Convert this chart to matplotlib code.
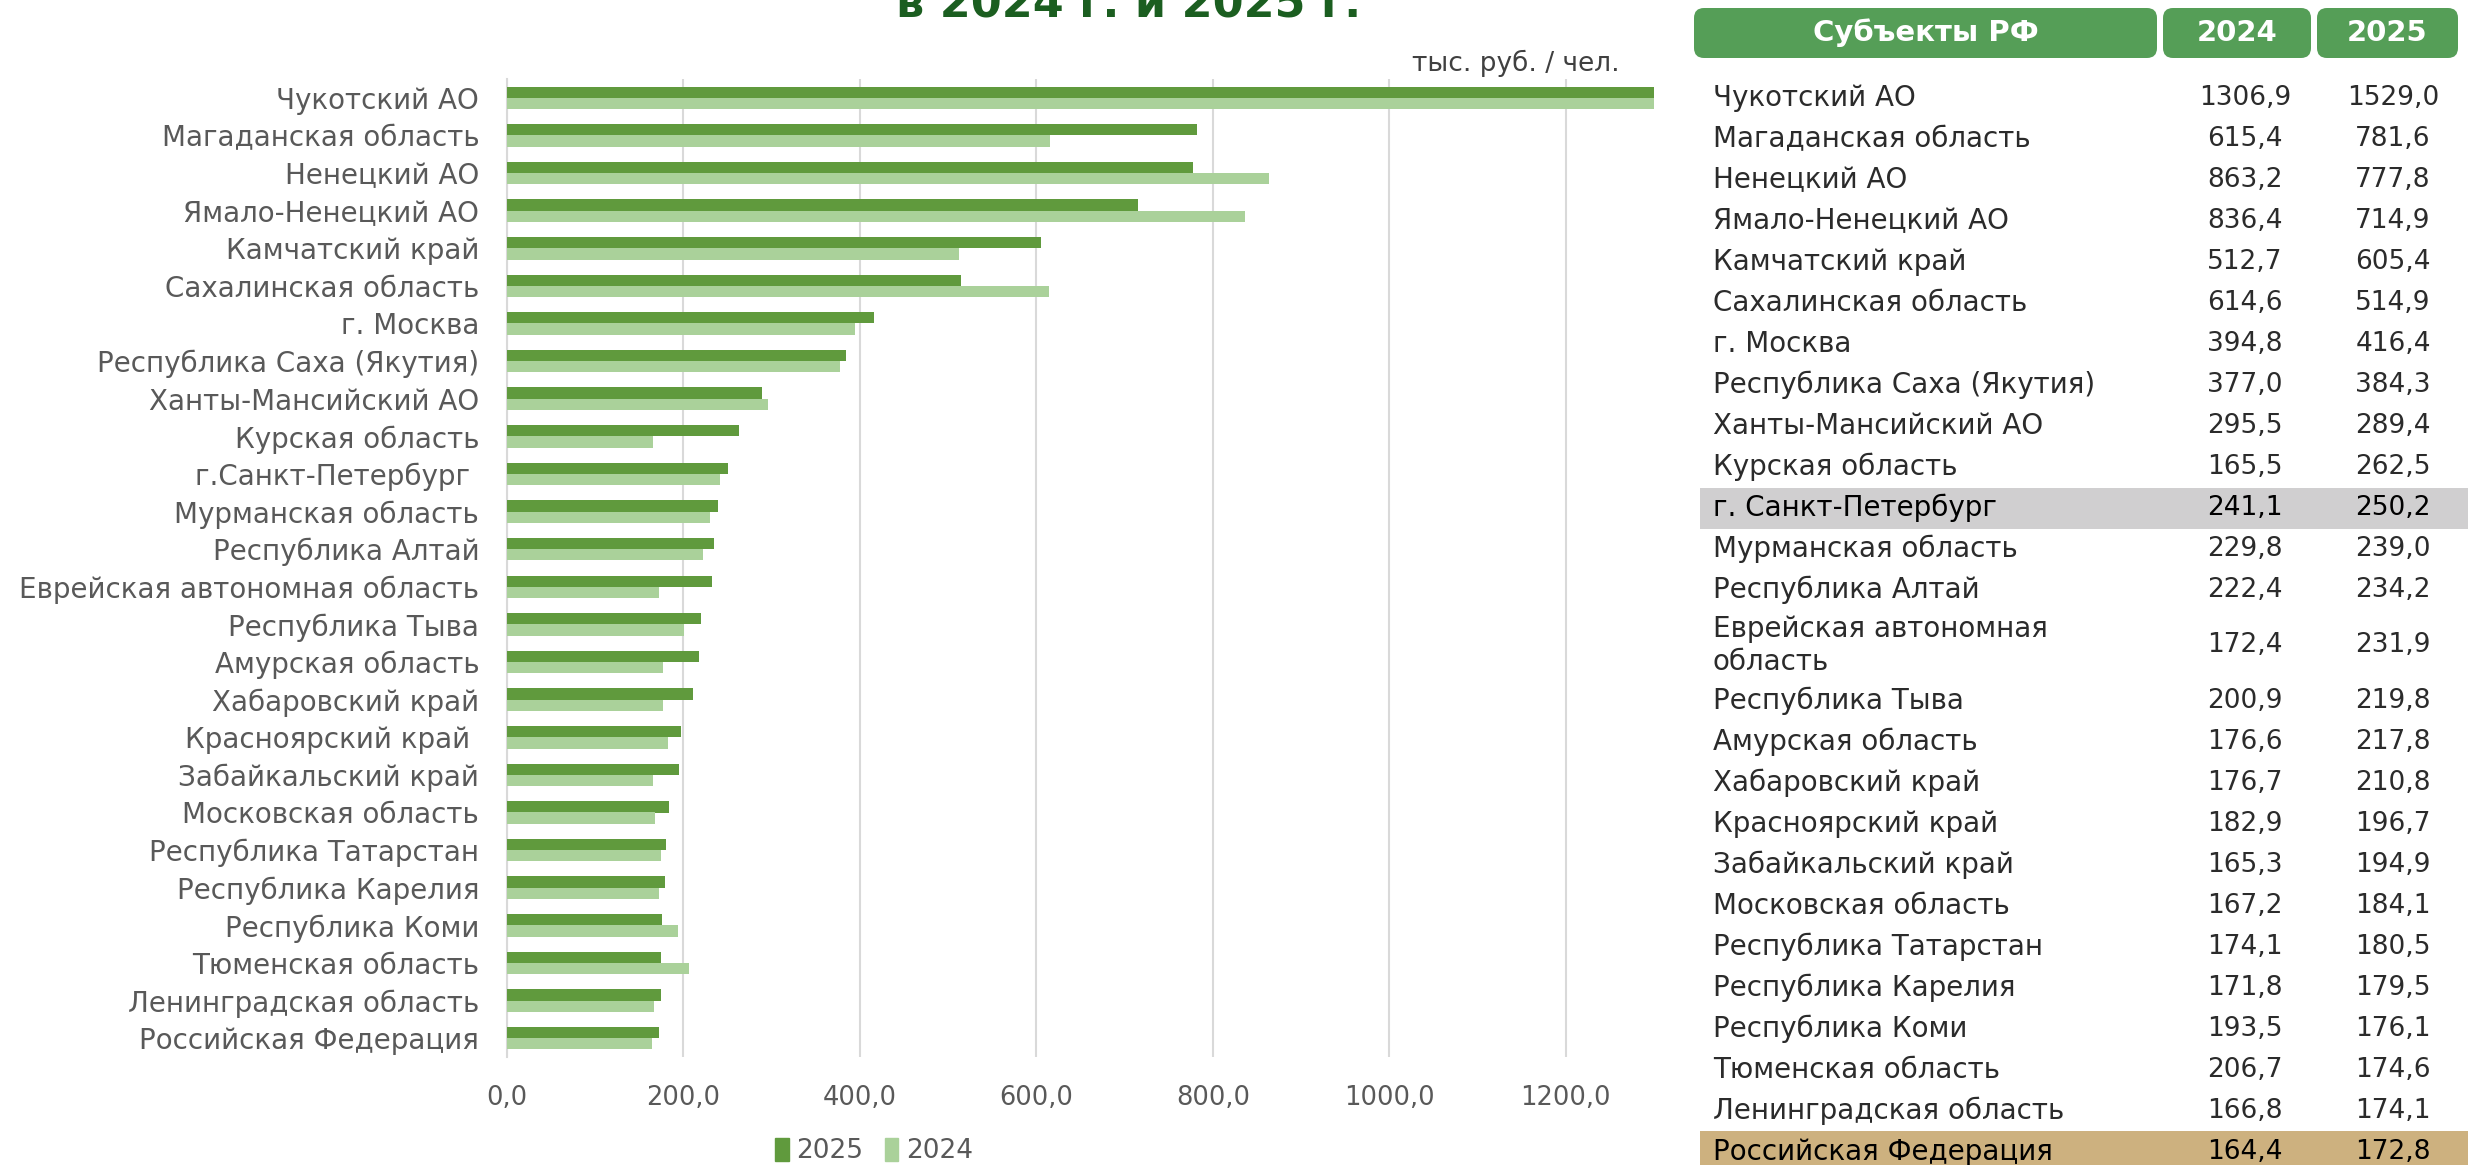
import numpy as np
import matplotlib
matplotlib.use("Agg")
import matplotlib.pyplot as plt
from matplotlib.patches import FancyBboxPatch, Rectangle, Patch

plt.rcParams['font.family'] = ['DejaVu Sans']

# chart order (top to bottom), sorted by 2025
chart_labels = ["Чукотский АО", "Магаданская область", "Ненецкий АО", "Ямало-Ненецкий АО",
                "Камчатский край", "Сахалинская область", "г. Москва", "Республика Саха (Якутия)",
                "Ханты-Мансийский АО", "Курская область", "г.Санкт-Петербург ", "Мурманская область",
                "Республика Алтай", "Еврейская автономная область", "Республика Тыва", "Амурская область",
                "Хабаровский край", "Красноярский край ", "Забайкальский край", "Московская область",
                "Республика Татарстан", "Республика Карелия", "Республика Коми", "Тюменская область",
                "Ленинградская область", "Российская Федерация"]
table_labels = ["Чукотский АО", "Магаданская область", "Ненецкий АО", "Ямало-Ненецкий АО",
                "Камчатский край", "Сахалинская область", "г. Москва", "Республика Саха (Якутия)",
                "Ханты-Мансийский АО", "Курская область", "г. Санкт-Петербург", "Мурманская область",
                "Республика Алтай", "Еврейская автономная\nобласть", "Республика Тыва", "Амурская область",
                "Хабаровский край", "Красноярский край", "Забайкальский край", "Московская область",
                "Республика Татарстан", "Республика Карелия", "Республика Коми", "Тюменская область",
                "Ленинградская область", "Российская Федерация"]
v2024 = [1306.9, 615.4, 863.2, 836.4, 512.7, 614.6, 394.8, 377.0, 295.5, 165.5, 241.1, 229.8,
         222.4, 172.4, 200.9, 176.6, 176.7, 182.9, 165.3, 167.2, 174.1, 171.8, 193.5, 206.7,
         166.8, 164.4]
v2025 = [1529.0, 781.6, 777.8, 714.9, 605.4, 514.9, 416.4, 384.3, 289.4, 262.5, 250.2, 239.0,
         234.2, 231.9, 219.8, 217.8, 210.8, 196.7, 194.9, 184.1, 180.5, 179.5, 176.1, 174.6,
         174.1, 172.8]
xticks = [0, 200, 400, 600, 800, 1000, 1200]

DARK = "#609a3d"
LIGHT = "#aad19a"
HEAD = "#559e57"
TXT = "#595959"

W, H = 2468, 1165
fig = plt.figure(figsize=(W / 100, H / 100), dpi=100)

# bar chart
ax = fig.add_axes([507 / W, 1 - 1057 / H, (1654 - 507) / W, (1057 - 79) / H])
y = np.arange(len(chart_labels))
h = 0.3
ax.barh(y - h / 2, v2025, height=h, color=DARK, label="2025", zorder=3)
ax.barh(y + h / 2, v2024, height=h, color=LIGHT, label="2024", zorder=3)
ax.set_xlim(0, 1300)
ax.set_ylim(len(chart_labels) - 0.5, -0.5)
ax.set_yticks(y)
ax.set_yticklabels(chart_labels, fontsize=20, color=TXT)
ax.set_xticks(xticks)
ax.set_xticklabels([f"{t:.1f}".replace(".", ",") for t in xticks], fontsize=18.5, color=TXT)
ax.tick_params(axis="both", length=0)
ax.tick_params(axis="y", pad=20)
ax.tick_params(axis="x", pad=20)
ax.grid(axis="x", color="#d9d9d9", linewidth=1.5, zorder=0)
for s in ["top", "right", "bottom"]:
    ax.spines[s].set_visible(False)
ax.spines["left"].set_color("#d9d9d9")
ax.spines["left"].set_linewidth(1.5)

fig.legend(handles=[Patch(color=DARK, label="2025"), Patch(color=LIGHT, label="2024")],
           loc="center", bbox_to_anchor=(874 / W, 1 - 1151 / H), ncol=2, frameon=False,
           fontsize=19, handlelength=0.5, handleheight=1.0, handletextpad=0.3,
           columnspacing=0.8, labelcolor=TXT)

# overlay in pixel coordinates for title and table
ov = fig.add_axes([0, 0, 1, 1], zorder=5)
ov.set_xlim(0, W)
ov.set_ylim(H, 0)
ov.axis("off")

ov.text(1129, 17, "в 2024 г. и 2025 г.", ha="center", va="baseline", fontsize=32,
        fontweight="bold", color="#1b5e20")
ov.text(1620, 63, "тыс. руб. / чел.", ha="right", va="center", fontsize=19, color="#404040")

# table header
for (x0, x1), lab in zip([(1694, 2157), (2163, 2311), (2317, 2458)], ["Субъекты РФ", "2024", "2025"]):
    ov.add_patch(FancyBboxPatch((x0 + 6, 14), x1 - x0 - 12, 38,
                                boxstyle="round,pad=6,rounding_size=10", fc=HEAD, ec="none"))
    ov.text((x0 + x1) / 2, 33, lab, ha="center", va="center", fontsize=21, color="white",
            fontweight="bold")

# table rows
pitch = 41
row_h = [1.7 if "\n" in lab else 1.0 for lab in table_labels]
yc = 98
for i, lab in enumerate(table_labels):
    if i > 0:
        yc += pitch * (row_h[i - 1] + row_h[i]) / 2
    color = "#2b2b2b"
    if lab.startswith("г. Санкт"):
        ov.add_patch(Rectangle((1700, yc - pitch / 2), W - 1700, pitch, fc="#d0cfd0", ec="none"))
        color = "black"
    if lab.startswith("Российская"):
        ov.add_patch(Rectangle((1700, yc - pitch / 2), W - 1700, pitch, fc="#cdb17f", ec="none"))
        color = "black"
    ov.text(1713, yc, lab, ha="left", va="center", fontsize=20, color=color, linespacing=1.2)
    ov.text(2245, yc, f"{v2024[i]:.1f}".replace(".", ","), ha="center", va="center",
            fontsize=19, color=color)
    ov.text(2393, yc, f"{v2025[i]:.1f}".replace(".", ","), ha="center", va="center",
            fontsize=19, color=color)

fig.savefig("out.png", dpi=100)
